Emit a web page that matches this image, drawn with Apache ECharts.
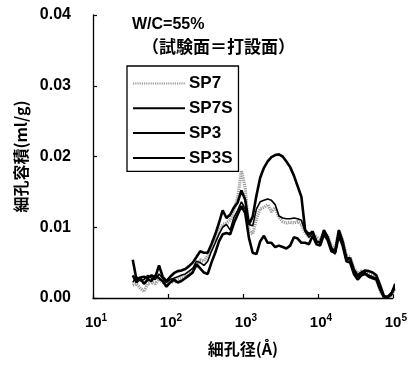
<!DOCTYPE html>
<html>
<head>
<meta charset="utf-8">
<script src="https://cdn.jsdelivr.net/npm/echarts@6/dist/echarts.min.js"></script>
<style>
  html, body { margin: 0; padding: 0; background: #fff; }
  #chart { width: 410px; height: 366px; }
</style>
</head>
<body>
<div id="chart"></div>
<script>
// Pore diameter (Å), log-spaced measurement points
const poreDiameter = [
  33.9, 38.0, 42.7, 47.9, 53.7, 60.3, 67.6, 75.9, 85.1, 95.5,
  107, 120, 135, 151, 170, 191, 214, 240, 269, 302,
  339, 380, 427, 479, 537, 603, 676, 759, 851, 955,
  1072, 1202, 1349, 1514, 1698, 1905, 2138, 2399, 2692, 3020,
  3388, 3802, 4266, 4786, 5370, 6026, 6761, 7586, 8511, 9550,
  10715, 12023, 13490, 15136, 16982, 19055, 21380, 23988, 26915, 30200,
  33884, 38019, 42658, 47863, 53703, 60256, 67608, 75858, 85114, 95499,
  107152
];

// Pore volume (ml/g) for each specimen
const sp7 = [
  0.0018, 0.0020, 0.0014, 0.0009, 0.0020, 0.0022, 0.0020, 0.0026, 0.0022, 0.0020,
  0.0024, 0.0022, 0.0026, 0.0028, 0.0030, 0.0036, 0.0040, 0.0044, 0.0054, 0.0052,
  0.0060, 0.0074, 0.0084, 0.0094, 0.0104, 0.0106, 0.0110, 0.0124, 0.0142, 0.0180,
  0.0156, 0.0096, 0.0090, 0.0112, 0.0126, 0.0128, 0.0132, 0.0122, 0.0128, 0.0114,
  0.0108, 0.0106, 0.0107, 0.0106, 0.0108, 0.0104, 0.0092, 0.0086, 0.0090, 0.0086,
  0.0082, 0.0092, 0.0088, 0.0074, 0.0070, 0.0094, 0.0082, 0.0060, 0.0058, 0.0042,
  0.0034, 0.0038, 0.0036, 0.0034, 0.0032, 0.0026, 0.0010, 0.0002, 0.0002, 0.0004,
  0.0014
];
const sp7s = [
  0.0054, 0.0026, 0.0029, 0.0030, 0.0028, 0.0032, 0.0029, 0.0046, 0.0030, 0.0024,
  0.0030, 0.0035, 0.0038, 0.0039, 0.0041, 0.0045, 0.0050, 0.0058, 0.0066, 0.0064,
  0.0064, 0.0076, 0.0090, 0.0106, 0.0124, 0.0113, 0.0118, 0.0128, 0.0135, 0.0152,
  0.0139, 0.0104, 0.0115, 0.0145, 0.0170, 0.0184, 0.0193, 0.0199, 0.0202, 0.0203,
  0.0200, 0.0193, 0.0185, 0.0173, 0.0158, 0.0143, 0.0096, 0.0090, 0.0094, 0.0080,
  0.0078, 0.0096, 0.0086, 0.0070, 0.0066, 0.0096, 0.0080, 0.0056, 0.0056, 0.0040,
  0.0032, 0.0036, 0.0039, 0.0038, 0.0036, 0.0032, 0.0018, 0.0003, 0.0001, 0.0005,
  0.0020
];
const sp3 = [
  0.0032, 0.0022, 0.0028, 0.0020, 0.0026, 0.0024, 0.0032, 0.0028, 0.0024, 0.0016,
  0.0022, 0.0026, 0.0022, 0.0024, 0.0028, 0.0032, 0.0036, 0.0048, 0.0042, 0.0036,
  0.0034, 0.0050, 0.0064, 0.0080, 0.0090, 0.0092, 0.0090, 0.0106, 0.0118, 0.0130,
  0.0120, 0.0085, 0.0064, 0.0062, 0.0080, 0.0088, 0.0078, 0.0078, 0.0072, 0.0074,
  0.0072, 0.0070, 0.0074, 0.0086, 0.0084, 0.0078, 0.0078, 0.0076, 0.0088, 0.0076,
  0.0074, 0.0090, 0.0082, 0.0066, 0.0064, 0.0088, 0.0074, 0.0052, 0.0050, 0.0034,
  0.0026, 0.0032, 0.0034, 0.0030, 0.0028, 0.0026, 0.0012, 0.0001, 0.0001, 0.0006,
  0.0016
];
const sp3s = [
  0.0022, 0.0030, 0.0024, 0.0026, 0.0032, 0.0028, 0.0026, 0.0034, 0.0028, 0.0022,
  0.0026, 0.0028, 0.0030, 0.0032, 0.0034, 0.0038, 0.0042, 0.0052, 0.0050, 0.0046,
  0.0052, 0.0066, 0.0078, 0.0090, 0.0100, 0.0104, 0.0096, 0.0114, 0.0124, 0.0136,
  0.0126, 0.0104, 0.0102, 0.0126, 0.0136, 0.0138, 0.0140, 0.0138, 0.0132, 0.0116,
  0.0113, 0.0112, 0.0112, 0.0113, 0.0112, 0.0110, 0.0094, 0.0086, 0.0092, 0.0080,
  0.0078, 0.0094, 0.0084, 0.0068, 0.0062, 0.0092, 0.0076, 0.0054, 0.0054, 0.0036,
  0.0030, 0.0034, 0.0036, 0.0032, 0.0030, 0.0028, 0.0014, 0.0002, 0.0002, 0.0008,
  0.0018
];

const seriesNames = ['SP7', 'SP7S', 'SP3', 'SP3S'];
const yTicks = [0, 0.01, 0.02, 0.03, 0.04];

const FONT = '"Liberation Sans", Arial, sans-serif';
const CJK = '"Noto Sans CJK JP", "Noto Sans", sans-serif';

function pairs(values) {
  return poreDiameter.map((d, i) => [d, values[i]]);
}

function lineSeries(name, values, style, z) {
  return {
    name: name,
    type: 'line',
    data: pairs(values),
    symbol: 'none',
    showSymbol: false,
    clip: false,
    z: z,
    itemStyle: { color: style.color },
    lineStyle: style
  };
}

const chart = echarts.init(document.getElementById('chart'), null, { renderer: 'canvas' });

chart.setOption({
  animation: false,
  backgroundColor: '#ffffff',
  grid: { left: 93, right: 6.5, top: 15, bottom: 68 },
  xAxis: {
    type: 'log',
    logBase: 10,
    min: 10,
    max: 100000,
    name: '細孔径(Å)',
    nameLocation: 'middle',
    nameGap: 43,
    nameTextStyle: { fontFamily: CJK, fontSize: 16, fontWeight: 'bold', color: '#000' },
    axisLine: { lineStyle: { color: '#000', width: 1.3 } },
    axisTick: { inside: true, length: 4, lineStyle: { color: '#000', width: 1.2 } },
    minorTick: { show: false },
    splitLine: { show: false },
    axisLabel: {
      margin: 15,
      formatter: function (v) {
        const e = Math.round(Math.log10(v));
        return '{sp| }{b|10}{sup|' + e + '}';
      },
      rich: {
        sp: { width: 6, fontSize: 10 },
        b: { fontFamily: FONT, fontSize: 15, fontWeight: 'bold', color: '#000' },
        sup: { fontFamily: FONT, fontSize: 10, fontWeight: 'bold', color: '#000', padding: [0, 0, 10, 0] }
      }
    }
  },
  yAxis: {
    type: 'value',
    min: yTicks[0],
    max: yTicks[yTicks.length - 1],
    interval: 0.01,
    name: '細孔容積(ml/g)',
    nameLocation: 'middle',
    nameGap: 62,
    nameRotate: 90,
    nameTextStyle: { fontFamily: CJK, fontSize: 16, fontWeight: 'bold', color: '#000' },
    axisLine: { show: true, lineStyle: { color: '#000', width: 1.3 } },
    axisTick: { show: true, inside: true, length: 4, lineStyle: { color: '#000', width: 1.2 } },
    splitLine: { show: false },
    axisLabel: {
      margin: 22,
      fontFamily: FONT,
      fontSize: 16,
      fontWeight: 'bold',
      color: '#000',
      formatter: v => v.toFixed(2)
    }
  },
  legend: {
    data: seriesNames,
    orient: 'vertical',
    left: 127,
    top: 66,
    itemWidth: 52,
    itemHeight: 12,
    itemGap: 7.8,
    padding: [9, 6, 5, 5],
    borderColor: '#000',
    borderWidth: 1.3,
    backgroundColor: '#fff',
    itemStyle: { opacity: 0 },
    textStyle: { fontFamily: FONT, fontSize: 17, fontWeight: 'bold', color: '#000', padding: [0, 0, 0, -1] }
  },
  graphic: [
    {
      type: 'text',
      left: 132,
      top: 17,
      style: { text: 'W/C=55%', font: 'bold 16px ' + FONT, fill: '#000' }
    },
    {
      type: 'text',
      left: 142,
      top: 38,
      style: { text: '（試験面＝打設面）', font: 'bold 17px ' + CJK, fill: '#000' }
    }
  ],
  series: [
    lineSeries('SP7', sp7, { color: '#999999', width: 3.2, type: [1.2, 1] }, 2),
    lineSeries('SP7S', sp7s, { color: '#000', width: 2.6 }, 3),
    lineSeries('SP3', sp3, { color: '#000', width: 2.6 }, 3),
    lineSeries('SP3S', sp3s, { color: '#000', width: 1.6 }, 4)
  ]
});
</script>
</body>
</html>
